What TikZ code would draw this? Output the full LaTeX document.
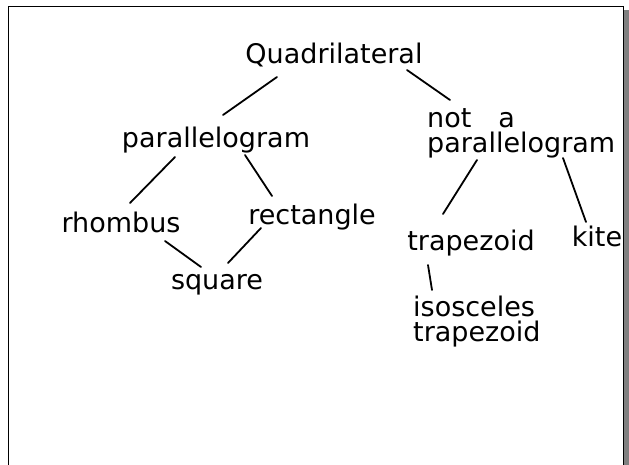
\documentclass[tikz,border=0pt]{standalone}
\usepackage{fontspec}
\setmainfont{DejaVu Sans}
\usetikzlibrary{calc}

\begin{document}
\begin{tikzpicture}[x=1pt,y=-1pt,line cap=round,
    every node/.style={inner sep=0pt,anchor=base,font=\fontsize{27}{25}\selectfont},
    link/.style={line width=1.8pt}]
    \useasboundingbox (0,0) rectangle (629,465);
    % page frame
    \fill[gray] (624,10) rectangle (629,465);
    \draw[line width=1pt] (8,465) -- (8,7) -- (623,7) -- (623,465);
    \node (q) at (334,64) {Quadrilateral};
    \node (p) at (216,148) {parallelogram};
    \node[anchor=base west,align=left] (np) at (427,153) {not\quad a\\parallelogram};
    \node (rh) at (121,233) {rhombus};
    \node (re) at (312,225) {rectangle};
    \node (sq) at (217,289) {square};
    \node (tr) at (471,250) {trapezoid};
    \node (ki) at (597,247) {kite};
    \node[anchor=base west,align=left] (is) at (413,341) {isosceles\\trapezoid};
    \draw[link] ($(q.base)+(-57,13)$) -- ($(p.base)+(7,-33)$);
    \draw[link] ($(q.base)+(73,6)$) -- ($(np.base west)+(23,-53)$);
    \draw[link] ($(p.base)+(-41,9)$) -- ($(rh.base)+(9,-30)$);
    \draw[link] ($(p.base)+(29,7)$) -- ($(re.base)+(-40,-29)$);
    \draw[link] ($(rh.base)+(44,8)$) -- ($(sq.base)+(-16,-22)$);
    \draw[link] ($(re.base)+(-51,3)$) -- ($(sq.base)+(11,-26)$);
    \draw[link] ($(np.base west)+(50,7)$) -- ($(tr.base)+(-28,-36)$);
    \draw[link] ($(np.base west)+(136,5)$) -- ($(ki.base)+(-11,-25)$);
    \draw[link] ($(tr.base)+(-43,15)$) -- ($(is.base west)+(19,-51)$);
\end{tikzpicture}
\end{document}
